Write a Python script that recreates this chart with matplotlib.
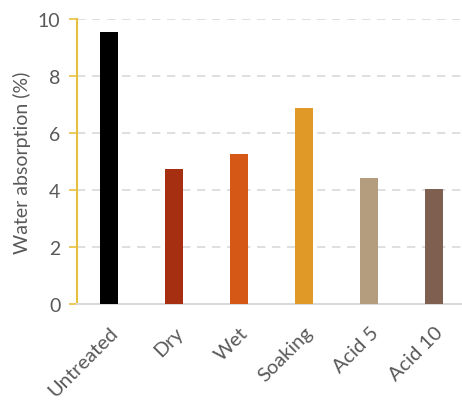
import matplotlib.pyplot as plt

categories = ['Untreated', 'Dry', 'Wet', 'Soaking', 'Acid 5', 'Acid 10']
absorption = [9.54, 4.75, 5.27, 6.88, 4.43, 4.02]
colors = ['#000000', '#A52F10', '#D55817', '#E09826', '#B39D7E', '#7E5F50']

plt.rcParams['font.family'] = ['Lato', 'DejaVu Sans']

fig = plt.figure(figsize=(4.62, 4.02), dpi=100)
ax = fig.add_axes([77 / 462, 97 / 402, 384 / 462, 285 / 402])

x = range(len(categories))
ax.bar(x, absorption, width=0.277, color=colors, zorder=3)

ax.set_ylim(0, 10)
ax.set_xlim(-0.5, 5.41)
ax.set_yticks([0, 2, 4, 6, 8, 10])
ax.yaxis.grid(True, linestyle=(0, (5, 4)), color='#D9D9D9', linewidth=1.2, zorder=0)

ax.set_xticks(list(x))
ax.set_xticklabels(categories, rotation=45, ha='right', rotation_mode='anchor')
ax.tick_params(axis='x', length=0, pad=14, labelsize=14.5, labelcolor='#595959')
ax.tick_params(axis='y', length=6, width=1.2, color='#E8C040', pad=6,
               labelsize=14, labelcolor='#595959')

for side in ['top', 'right']:
    ax.spines[side].set_visible(False)
ax.spines['left'].set_color('#E8C040')
ax.spines['left'].set_linewidth(1.5)
ax.spines['bottom'].set_color('#D9D9D9')
ax.spines['bottom'].set_linewidth(1.5)

ax.set_ylabel('Water absorption (%)', fontsize=14, color='#595959', labelpad=5)

fig.savefig('out.png', dpi=100)
